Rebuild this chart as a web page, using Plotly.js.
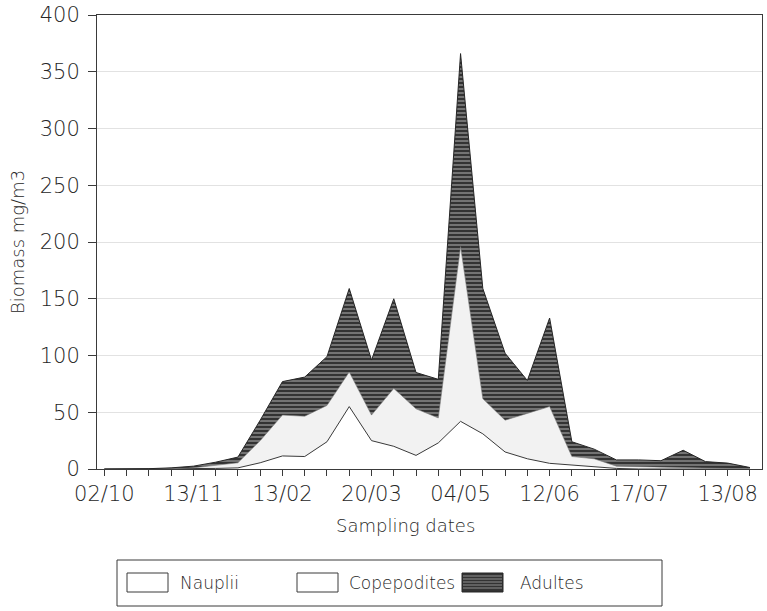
<!DOCTYPE html>
<html>
<head>
<meta charset="utf-8">
<script src="https://cdn.plot.ly/plotly-3.0.1.min.js"></script>
<style>
  html, body { margin: 0; padding: 0; background: #fff; }
  #chart { width: 767px; height: 611px; }
</style>
</head>
<body>
<div id="chart"></div>
<script>
// Zooplankton biomass (mg/m3) per sampling date, split by stage.
const dateLabels = ["02/10", "13/11", "13/02", "20/03", "04/05", "12/06", "17/07", "13/08"];
const labelEvery = 4; // one date label every 4 samplings

const nauplii = [0, 0, 0, 0, 0, 0.5, 1, 5.5, 11.5, 11, 24, 55, 25, 20, 12,
                 23, 42, 31, 15, 9, 5, 3.5, 1.5, 0.5, 0, 0, 0, 0, 0, 0];
const copepodites = [0, 0, 0, 0.3, 1, 2.5, 4.5, 19.5, 36, 35.5, 32, 30.5, 22.5, 51, 41,
                     22, 154, 31, 28, 40, 50, 7.5, 7.5, 2, 2, 1.5, 1.5, 0.6, 0.5, 0.2];
const adultes = [0, 0, 0.3, 0.7, 1.5, 3, 5, 18, 29.5, 34.5, 43, 73.5, 48.5, 79, 32,
                 34, 170, 97, 59, 29, 78, 13, 8.5, 5.5, 6, 5.8, 15, 5.9, 4.7, 1.1];

const samples = nauplii.map((_, i) => i);
const tickText = samples.map(i => (i % labelEvery === 0 ? dateLabels[i / labelEvery] : ""));

const FONT = "DejaVu Sans, Verdana, sans-serif";
const INK = "#262626";
const EDGE = "#3a3a3a";

// plot area in pixels, used to place the legend block under the chart
const W = 767, H = 611;
const L = 97, R = 762, T = 15, B = 469;
const px = x => (x - L) / (R - L);
const py = y => (B - y) / (B - T);

const traces = [
  {
    x: samples, y: nauplii, name: "Nauplii", type: "scatter", mode: "lines",
    stackgroup: "bio", line: { color: EDGE, width: 1 }, fillcolor: "#ffffff"
  },
  {
    x: samples, y: copepodites, name: "Copepodites", type: "scatter", mode: "lines",
    stackgroup: "bio", line: { color: "#777777", width: 0.6 }, fillcolor: "#f2f2f2"
  },
  {
    x: samples, y: adultes, name: "Adultes", type: "scatter", mode: "lines",
    stackgroup: "bio", line: { color: "#262626", width: 1 }, fillcolor: "#3a3a3a",
    fillpattern: { shape: "-", bgcolor: "#333333", fgcolor: "#c4c4c4", size: 4, solidity: 0.22 }
  }
];

// legend block: framed row of swatches + labels
const legendItems = [
  { label: "Nauplii", x0: 127, textX: 178 },
  { label: "Copepodites", x0: 297, textX: 347 },
  { label: "Adultes", x0: 462, textX: 518 }
];
const swW = 41, swTop = 573, swBot = 592;
const shapes = [
  { type: "rect", xref: "paper", yref: "paper",
    x0: px(117), x1: px(662), y0: py(606), y1: py(560),
    line: { color: EDGE, width: 1 }, fillcolor: "rgba(0,0,0,0)" }
];
const annotations = [];
legendItems.forEach((it, k) => {
  const dark = k === 2;
  shapes.push({ type: "rect", xref: "paper", yref: "paper",
    x0: px(it.x0), x1: px(it.x0 + swW), y0: py(swBot), y1: py(swTop),
    line: { color: dark ? "#262626" : EDGE, width: 1 },
    fillcolor: dark ? "#333333" : "#ffffff" });
  if (dark) {
    for (let yy = swTop + 3; yy < swBot - 1; yy += 3) {
      shapes.push({ type: "line", xref: "paper", yref: "paper",
        x0: px(it.x0 + 1), x1: px(it.x0 + swW - 1), y0: py(yy), y1: py(yy),
        line: { color: "#b8b8b8", width: 0.7 } });
    }
  }
  annotations.push({ xref: "paper", yref: "paper", x: px(it.textX), y: py((swTop + swBot) / 2),
    xanchor: "left", yanchor: "middle", showarrow: false, text: it.label,
    font: { family: FONT, size: 17, color: INK, weight: 200 } });
});
annotations.push({ xref: "paper", yref: "paper", x: px(405), y: py(525),
  xanchor: "center", yanchor: "middle", showarrow: false, text: "Sampling dates",
  font: { family: FONT, size: 18, color: INK, weight: 200 } });

const layout = {
  width: W, height: H,
  margin: { l: L, r: W - R, t: T, b: H - B },
  paper_bgcolor: "#ffffff", plot_bgcolor: "#ffffff",
  showlegend: false,
  font: { family: FONT, color: INK, size: 20, weight: 200 },
  xaxis: {
    range: [-0.33, 29.54], tickmode: "array", tickvals: samples, ticktext: tickText,
    ticks: "outside", ticklen: 6, tickcolor: EDGE, tickwidth: 1,
    showline: true, linecolor: EDGE, linewidth: 1, mirror: true,
    showgrid: false, zeroline: false,
    tickfont: { family: FONT, size: 21, color: INK, weight: 200 }
  },
  yaxis: {
    range: [0, 400], tickmode: "linear", tick0: 0, dtick: 50,
    ticks: "outside", ticklen: 8, tickcolor: EDGE, tickwidth: 1, ticklabelstandoff: 4,
    showline: true, linecolor: EDGE, linewidth: 1, mirror: true,
    showgrid: true, gridcolor: "#e2e2e2", gridwidth: 1, zeroline: false,
    tickfont: { family: FONT, size: 21, color: INK, weight: 200 },
    title: { text: "Biomass mg/m3", standoff: 10, font: { family: FONT, size: 18, color: INK, weight: 200 } }
  },
  shapes: shapes,
  annotations: annotations
};

Plotly.newPlot("chart", traces, layout, { staticPlot: true, displayModeBar: false });
</script>
</body>
</html>
